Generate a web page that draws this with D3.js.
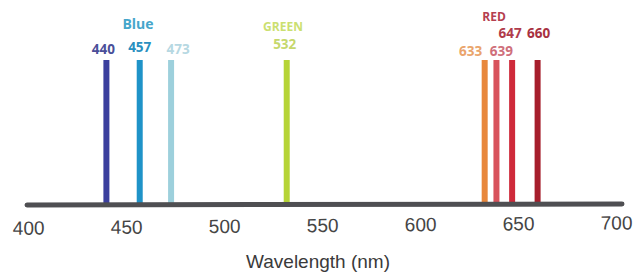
<!DOCTYPE html>
<html>
<head>
<meta charset="utf-8">
<script src="https://cdn.jsdelivr.net/npm/d3@7"></script>
<style>
  body { margin: 0; background: #fff; }
  svg { display: block; }
</style>
</head>
<body>
<div id="chart"></div>
<script>
// laser lines (nm)
const wavelengths = [440, 457, 473, 532, 633, 639, 647, 660];
const lineGroup = ['Blue', 'Blue', 'Blue', 'GREEN', 'RED', 'RED', 'RED', 'RED'];
const barColors = ['#3b3f9e', '#1f93c8', '#9dd0dc', '#b6d436', '#e8873c', '#d8525c', '#cf2a3a', '#a61e2c'];
const labelColors = ['#4a4f99', '#2a8fc0', '#b6d8e2', '#c6d86c', '#eaa46c', '#cf6f7b', '#b03b4b', '#a83141'];
const groups = ['Blue', 'GREEN', 'RED'];
const groupColors = ['#45a6cb', '#cbdf70', '#b5404f'];
const tickValues = [400, 450, 500, 550, 600, 650, 700];

// label layout (dx from bar, baseline y)
const labelLayout = [[-3, 54], [0, 52], [7, 54], [-2, 49], [-14, 56], [5, 56], [-2, 38], [1, 38]];
const groupLayout = { Blue: [138, 29], GREEN: [283, 31], RED: [494, 21] };

const width = 634, height = 277;
const axisY = 205;

const svg = d3.select('#chart').append('svg')
  .attr('width', width)
  .attr('height', height);

const x = d3.scaleLinear().domain([400, 700]).range([28, 616]);
const y = d3.scaleLinear().domain([0, 1]).range([axisY, 60]);

// bars
svg.append('g').selectAll('rect')
  .data(wavelengths)
  .join('rect')
  .attr('x', d => x(d) - 3)
  .attr('width', 6)
  .attr('y', y(1))
  .attr('height', y(0) - y(1))
  .attr('fill', (d, i) => barColors[i]);

// baseline
svg.append('line')
  .attr('x1', x(400) - 1)
  .attr('x2', x(700) + 6)
  .attr('y1', axisY)
  .attr('y2', axisY - 1)
  .attr('stroke', '#4f4f52')
  .attr('stroke-width', 5)
  .attr('stroke-linecap', 'round');

// tick labels
const axis = d3.axisBottom(x).tickValues(tickValues).tickSize(0).tickPadding(0);
const ag = svg.append('g')
  .attr('transform', `translate(0, 214) rotate(-0.5, 320, 0)`)
  .call(axis);
ag.select('.domain').remove();
ag.selectAll('text')
  .attr('font-family', 'Liberation Sans, Arial, sans-serif')
  .attr('font-size', 19)
  .attr('fill', '#454545')
  .attr('dy', '0.95em');

// laser labels
svg.append('g').selectAll('text')
  .data(wavelengths)
  .join('text')
  .attr('x', (d, i) => x(d) + labelLayout[i][0])
  .attr('y', (d, i) => labelLayout[i][1])
  .attr('text-anchor', 'middle')
  .attr('font-family', 'Open Sans, sans-serif')
  .attr('font-weight', 'bold')
  .attr('font-size', 13.5)
  .attr('fill', (d, i) => labelColors[i])
  .text(d => d);

svg.append('g').selectAll('text')
  .data(groups)
  .join('text')
  .attr('x', d => groupLayout[d][0])
  .attr('y', d => groupLayout[d][1])
  .attr('text-anchor', 'middle')
  .attr('font-family', 'Open Sans, sans-serif')
  .attr('font-weight', 'bold')
  .attr('font-size', (d, i) => i === 0 ? 14 : 12)
  .attr('fill', (d, i) => groupColors[i])
  .text(d => d);

// axis title
svg.append('text')
  .attr('x', 318)
  .attr('y', 268)
  .attr('text-anchor', 'middle')
  .attr('font-family', 'Liberation Sans, Arial, sans-serif')
  .attr('font-size', 19)
  .attr('fill', '#3a3a3a')
  .text('Wavelength (nm)');
</script>
</body>
</html>
